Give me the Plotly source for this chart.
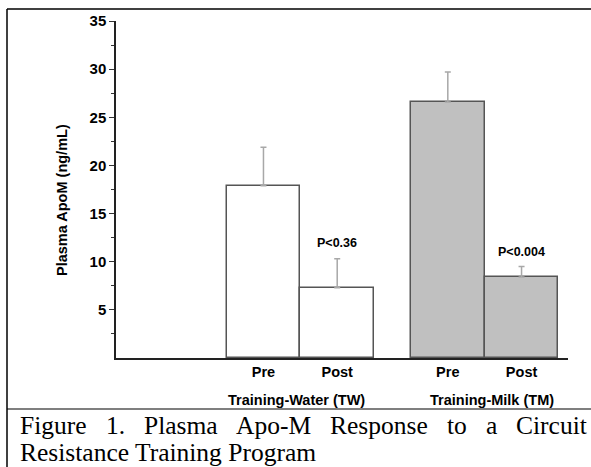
import plotly.graph_objects as go

# ---- data ----
groups = ["Training-Water (TW)", "Training-Milk (TM)"]
phases = ["Pre", "Post", "Pre", "Post"]
bar_pos = [2.0, 3.0, 4.5, 5.5]          # category slots on the x axis
means = [17.9, 7.3, 26.6, 8.4]
err_up = [4.0, 3.0, 3.1, 1.1]
p_labels = ["P<0.36", "P<0.004"]
p_label_y = [11.9, 11.0]
y_ticks = [5, 10, 15, 20, 25, 30, 35]
y_minor = [2.5, 7.5, 12.5, 17.5, 22.5, 27.5, 32.5]
fills = ["#ffffff", "#ffffff", "#c0c0c0", "#c0c0c0"]

W, H = 591, 467
ML, MR, MT, MB = 116, 23, 21, 109
PW, PH = W - ML - MR, H - MT - MB


def px(x):
    return (x - ML) / PW


def py(y):
    return (H - MB - y) / PH


fig = go.Figure()
fig.add_trace(go.Bar(
    x=bar_pos, y=means, width=1.0,
    marker=dict(color=fills, line=dict(color="#555555", width=1.5)),
    error_y=dict(type="data", symmetric=False, array=err_up,
                 arrayminus=[0] * 4, color="#a8a8a8", thickness=1.5, width=3),
    showlegend=False, hoverinfo="skip",
))

font_b = dict(family="Liberation Sans, Arial", color="black")

annotations = []
# P-value labels above the Post bars
for xv, txt, yv in zip([bar_pos[1], bar_pos[3]], p_labels, p_label_y):
    annotations.append(dict(x=xv, y=yv, xref="x", yref="y", text="<b>%s</b>" % txt,
                            showarrow=False, font=dict(size=12.5, **font_b)))
# group labels
for xv, g in zip([2.45, 5.1], groups):
    annotations.append(dict(x=xv, y=py(400), xref="x", yref="paper", yanchor="middle",
                            text="<b>%s</b>" % g, showarrow=False,
                            font=dict(size=14.5, **font_b)))
# y title
annotations.append(dict(x=px(52), y=py(200), xref="paper", yref="paper",
                        text="<b>Plasma ApoM (ng/mL)</b>", textangle=-90,
                        showarrow=False, font=dict(size=14.5, **font_b)))

# caption (justified first line)
cap_line1 = "Figure 1. Plasma Apo-M Response to a Circuit".split(" ")
cap_line2 = "Resistance Training Program"
cap_size = 25.5
tw = {"F": .556, "i": .278, "g": .5, "u": .5, "r": .333, "e": .444, "1": .5, ".": .25,
      "P": .556, "l": .278, "a": .444, "s": .389, "m": .778, "A": .722, "p": .5, "o": .5,
      "-": .333, "M": .889, "R": .667, "n": .5, "t": .278, "C": .667, "c": .444}
widths = [sum(tw.get(ch, .5) for ch in w) * cap_size for w in cap_line1]
x0, x1 = 18, 585
gap = (x1 - x0 - sum(widths)) / (len(cap_line1) - 1)
cx = x0
cap_font = dict(family="Liberation Serif, Times New Roman", size=cap_size, color="black")
for w, wd in zip(cap_line1, widths):
    annotations.append(dict(x=px(cx), y=py(425), xref="paper", yref="paper", text=w,
                            xanchor="left", yanchor="middle", showarrow=False,
                            font=cap_font))
    cx += wd + gap
annotations.append(dict(x=px(18), y=py(452), xref="paper", yref="paper", text=cap_line2,
                        xanchor="left", yanchor="middle", showarrow=False, font=cap_font))

shapes = [
    dict(type="line", xref="paper", yref="paper", x0=px(7), x1=px(W + 2), y0=py(9), y1=py(9),
         line=dict(color="black", width=1.5)),
    dict(type="line", xref="paper", yref="paper", x0=px(7), x1=px(7), y0=py(9), y1=py(H + 2),
         line=dict(color="black", width=1.5)),
    dict(type="line", xref="paper", yref="paper", x0=px(7), x1=px(W + 2), y0=py(409), y1=py(409),
         line=dict(color="black", width=1.2)),
]

fig.update_layout(
    width=W, height=H,
    margin=dict(l=ML, r=MR, t=MT, b=MB, autoexpand=False),
    paper_bgcolor="white", plot_bgcolor="white",
    annotations=annotations, shapes=shapes,
    bargap=0,
    xaxis=dict(range=[0, 6.13], tickvals=bar_pos, ticktext=["<b>%s</b>" % p for p in phases],
               ticks="", showline=True, linecolor="#222222", linewidth=1.5,
               showgrid=False, zeroline=False, tickfont=dict(size=14.5, **font_b)),
    yaxis=dict(range=[0, 35], tickvals=y_ticks, ticks="outside", ticklen=5, tickwidth=1.2,
               tickcolor="#333333",
               minor=dict(tickvals=y_minor, ticks="outside", ticklen=3, tickcolor="#333333"),
               showline=True, linecolor="#222222", linewidth=1.5, showgrid=False,
               zeroline=False, tickfont=dict(size=15, **font_b),
               ticktext=["<b>%d</b>" % t for t in y_ticks]),
)
fig.write_html("out.html", config={"displayModeBar": False},
               post_script="document.body.style.margin='0';document.body.style.overflow='hidden';")
